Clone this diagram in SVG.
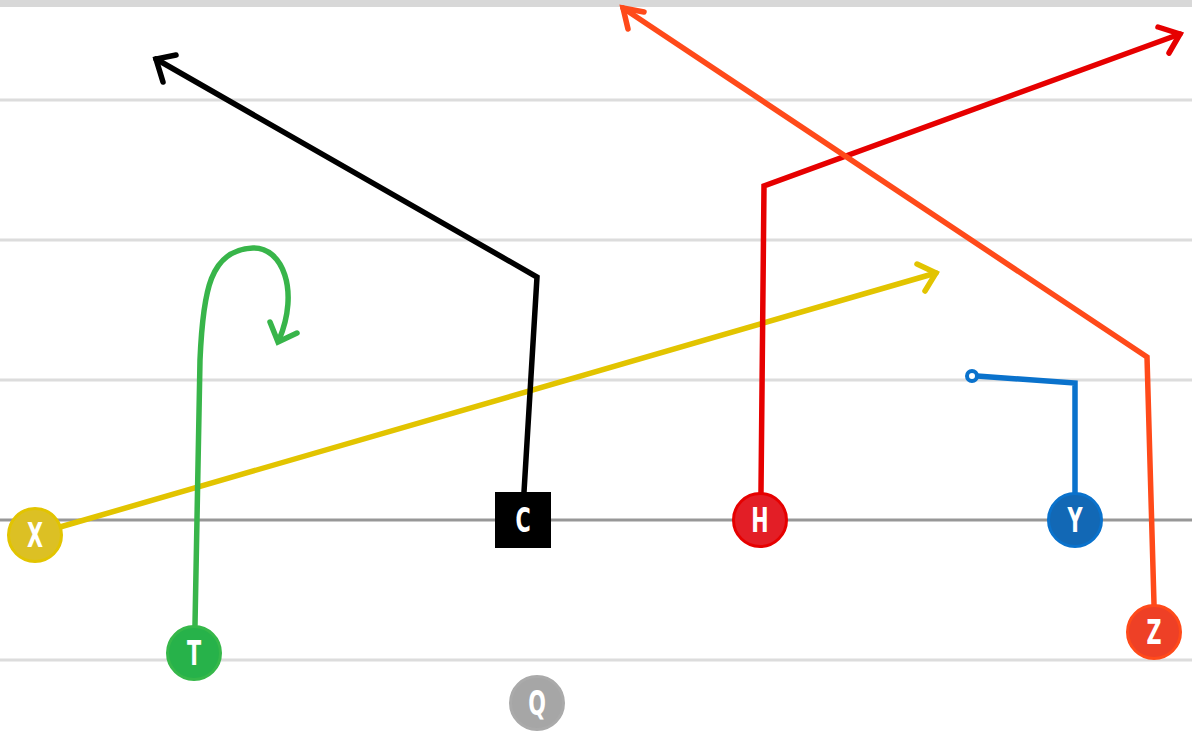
<svg xmlns="http://www.w3.org/2000/svg" width="1192" height="736" viewBox="0 0 1192 736">
<style>
.yl{stroke:#dcdcdc;stroke-width:3}
.rt{fill:none;stroke-width:5.5;stroke-linecap:round;stroke-linejoin:miter}
.lbl{font-family:"DejaVu Sans Condensed","DejaVu Sans",sans-serif;font-stretch:condensed;font-weight:bold;font-size:33px;fill:#fff;text-anchor:middle}
</style>
<rect width="1192" height="736" fill="#fff"/>
<g id="field">
<rect x="0" y="0" width="1192" height="7" fill="#d8d8d8"/>
<line class="yl" x1="0" y1="100" x2="1192" y2="100"/>
<line class="yl" x1="0" y1="240" x2="1192" y2="240"/>
<line class="yl" x1="0" y1="380" x2="1192" y2="380"/>
<line class="yl" x1="0" y1="660" x2="1192" y2="660"/>
<line x1="0" y1="520" x2="1192" y2="520" stroke="#979797" stroke-width="3"/>
</g>
<g id="connectors">
<path class="rt" stroke="#e2c400" d="M60,527 L936,273"/>
<path class="rt" stroke="#e2c400" d="M917,264 L936,273 L925,291"/>
<path class="rt" stroke="#000" d="M524,492 L537,277 L156,59"/>
<path class="rt" stroke="#000" d="M176,55 L156,59 L163,82"/>
<path class="rt" stroke="#e60000" d="M761,492 L764,186 L1180,34"/>
<path class="rt" stroke="#e60000" d="M1158,27 L1180,34 L1169,53"/>
<path class="rt" stroke="#ff4a1a" d="M1154,604 L1147,357 L623,8"/>
<path class="rt" stroke="#ff4a1a" d="M628,29 L623,8 L644,12"/>
<path class="rt" stroke="#0a72cc" d="M1075,492 L1075,383 L977,376"/>
<circle cx="972" cy="376" r="5" fill="#fff" stroke="#0a72cc" stroke-width="4"/>
<path class="rt" stroke="#38b54a" d="M195,625 L200,360 C203,290 210,250 253,248 C282,247 300,290 279,340"/>
<path class="rt" stroke="#38b54a" d="M270,322 L278,342 L297,333"/>
</g>
<g id="node-X"><circle cx="35" cy="535" r="26.5" fill="#dcc024" stroke="#e2c400" stroke-width="3"/><text class="lbl" transform="translate(35,547) scale(0.7,1)">X</text></g>
<g id="node-T"><circle cx="194" cy="653" r="26.5" fill="#27b24a" stroke="#36b84a" stroke-width="3"/><text class="lbl" transform="translate(194,665) scale(0.7,1)">T</text></g>
<g id="node-C"><rect x="495" y="492" width="56" height="56" fill="#000"/><text class="lbl" transform="translate(523,532) scale(0.7,1)">C</text></g>
<g id="node-H"><circle cx="760" cy="520" r="26.5" fill="#e31e26" stroke="#e60000" stroke-width="3"/><text class="lbl" transform="translate(760,532) scale(0.7,1)">H</text></g>
<g id="node-Y"><circle cx="1075" cy="520" r="26.5" fill="#1268b5" stroke="#0a72cc" stroke-width="3"/><text class="lbl" transform="translate(1075,532) scale(0.7,1)">Y</text></g>
<g id="node-Z"><circle cx="1154" cy="632" r="26.5" fill="#ee4026" stroke="#ff4a1a" stroke-width="3"/><text class="lbl" transform="translate(1154,644) scale(0.7,1)">Z</text></g>
<g id="node-Q"><circle cx="537" cy="703" r="26.5" fill="#a6a6a6" stroke="#aaaaaa" stroke-width="3"/><text class="lbl" transform="translate(537,715) scale(0.7,1)">Q</text></g>
</svg>
